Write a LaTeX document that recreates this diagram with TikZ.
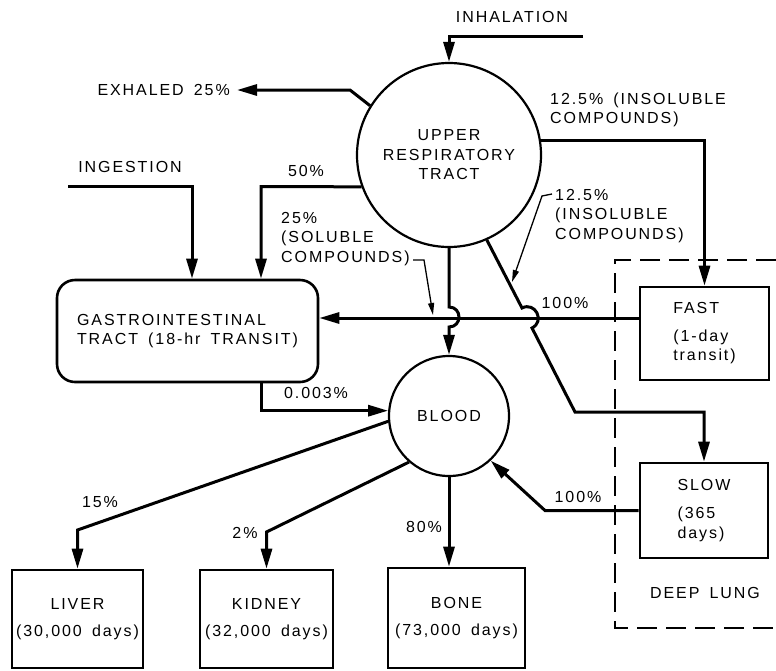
\documentclass[tikz,border=0pt]{standalone}
\usepackage{fontspec}
\setmainfont{Liberation Sans}[LetterSpace=12,WordSpace=1.6]
\usetikzlibrary{arrows.meta}

\begin{document}
\begin{tikzpicture}[x=1pt,y=-1pt,
  font=\fontsize{16}{19.5}\selectfont,
  flow/.style={line width=3pt,line join=miter},
  arr/.style={flow,-{Triangle[length=20pt,width=11pt]}},
  lead/.style={line width=1.3pt,-{Triangle[length=12pt,width=6pt]}},
  pool/.style={circle,draw,line width=2.2pt,inner sep=0pt,align=center},
  organ/.style={draw,line width=2.6pt,inner sep=0pt,align=center},
  lbl/.style={inner sep=0pt,align=left}]
\useasboundingbox (0,0) rectangle (776,670);

% compartments
\node[pool,minimum size=184pt] (urt) at (449,155) {UPPER\\RESPIRATORY\\TRACT};
\node[pool,minimum size=120pt] (blood) at (449,416) {BLOOD};
\node[organ,rounded corners=18pt,minimum width=261pt,minimum height=102pt,align=left]
  (gi) at (187.5,331) {GASTROINTESTINAL\\TRACT (18-hr TRANSIT)};
\node[organ,minimum width=129pt,minimum height=93pt,align=left]
  (fast) at (704.5,333.5) {FAST\\[8pt](1-day\\transit)};
\node[organ,minimum width=128pt,minimum height=95pt,align=left]
  (slow) at (704,510.5) {SLOW\\[9pt](365\\days)};
\node[organ,minimum width=131pt,minimum height=98pt] (liver) at (77.5,619) {LIVER\\[8pt](30,000 days)};
\node[organ,minimum width=133pt,minimum height=98pt] (kidney) at (266.5,619) {KIDNEY\\[8pt](32,000 days)};
\node[organ,minimum width=137pt,minimum height=100pt] (bone) at (456.5,618) {BONE\\[8pt](73,000 days)};

% deep lung boundary
\draw[line width=2.6pt,dash pattern=on 20pt off 9pt] (776,260) -- (615,260) -- (615,628) -- (776,628);
\node[lbl] (deep) at (705,593) {DEEP LUNG};

% sources and sinks
\node[lbl] (inhtxt) at (512,17) {INHALATION};
\node[lbl,anchor=east,inner xsep=7pt] (exh) at (237,90) {EXHALED 25\%};
\node[lbl] (ingtxt) at (130,167) {INGESTION};
\coordinate (inh) at (583,36);
\coordinate (ing) at (68,186);
\coordinate (ingc) at (192,186);
\coordinate (c50) at (261,186.5);

% transfers
\draw[arr] (inh) -- (urt.90 |- inh) -- (urt.90);
\draw[arr] (urt.148) -- (350,90) -- (exh.east);
\draw[arr] (urt.200) -- (c50) -- (gi.north -| c50);
\draw[arr] (ing) -- (ingc) -- (gi.north -| ingc);
\draw[arr] (urt.9) -- (urt.9 -| fast.north) -- (fast.north);
\draw[arr] (fast.west |- 0,318) -- (gi.east |- 0,318);
\draw[arr] (urt.270) -- (449,307) .. controls (462.3,307) and (462.3,327) .. (449,327) -- (blood.90);
\draw[arr] (urt.294) -- (522,308) .. controls (535.3,301.3) and (545.3,321.3) .. (532,328)
  -- (575,412) -- (575,412 -| slow.north) -- (slow.north);
\draw[arr] (gi.south -| c50) -- (c50 |- blood.175) -- (blood.175);
\draw[arr] (slow.west) -- (545,510.5) -- (blood.313);
\draw[arr] (blood.185) -- (liver.north |- 0,530) -- (liver.north);
\draw[arr] (blood.229) -- (kidney.north |- 0,532) -- (kidney.north);
\draw[arr] (blood.270) -- (blood.270 |- bone.north);

% transfer labels
\node[lbl] (p50) at (306,171) {50\%};
\node[lbl] (p100a) at (565,303) {100\%};
\node[lbl] (p0003) at (316,393) {0.003\%};
\node[lbl] (p100b) at (578,497) {100\%};
\node[lbl] (p80) at (424,527) {80\%};
\node[lbl] (p15) at (100,502) {15\%};
\node[lbl] (p2) at (245,533) {2\%};
\node[lbl,anchor=west] (ins1) at (550,110) {12.5\% (INSOLUBLE\\COMPOUNDS)};
\node[lbl,anchor=west] (ins2) at (555,216) {12.5\%\\(INSOLUBLE\\COMPOUNDS)};
\node[lbl,anchor=west] (sol) at (281,239) {25\%\\(SOLUBLE\\COMPOUNDS)};

% leaders from the notes to their paths
\coordinate (la) at (413,260);
\coordinate (lb) at (424,260);
\coordinate (lc) at (433,315);
\coordinate (ma) at (552,194);
\coordinate (mb) at (542,196);
\coordinate (mc) at (512,282);
\draw[lead] (la) -- (lb) -- (lc);
\draw[lead] (ma) -- (mb) -- (mc);
\end{tikzpicture}
\end{document}
